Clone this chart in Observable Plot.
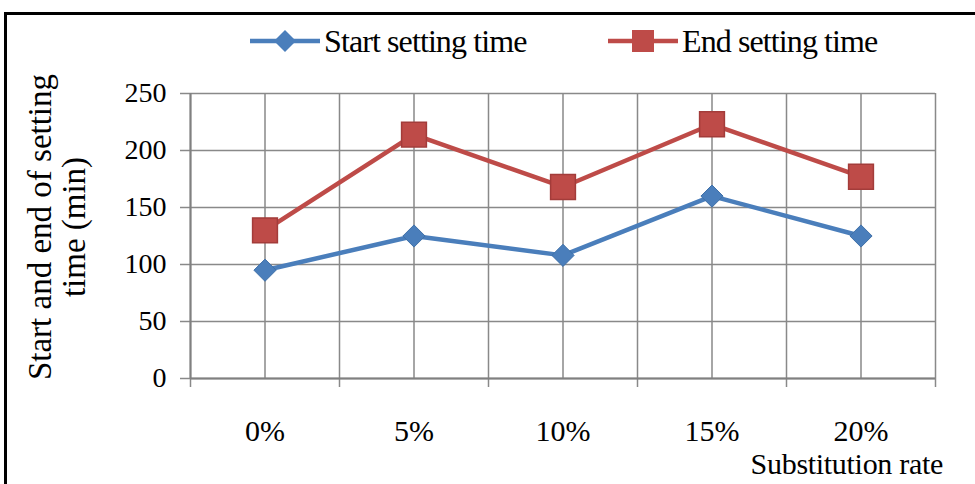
<!DOCTYPE html>
<html><head><meta charset="utf-8">
<script src="https://cdn.jsdelivr.net/npm/d3@7"></script>
<script src="https://cdn.jsdelivr.net/npm/@observablehq/plot@0.6"></script>
<style>
body{margin:0;background:#fff;font-family:"Liberation Serif","DejaVu Serif",serif;}
#wrap{position:relative;width:975px;height:484px;overflow:hidden;background:#fff}
#frame{position:absolute;left:4px;top:12px;width:1000px;height:520px;border:3px solid #000;box-sizing:border-box;pointer-events:none}
#chart{position:absolute;left:0;top:0}
.leg{position:absolute;top:24px;height:34px;display:flex;align-items:center;font-size:32px;letter-spacing:-0.9px;color:#000;white-space:nowrap}
.leg svg{margin-right:2px}
#ytitle{position:absolute;left:57px;top:227px;width:360px;transform:translate(-50%,-50%) rotate(-90deg);text-align:center;font-size:33px;line-height:34px;color:#000}
#xtitle{position:absolute;right:32px;top:447px;font-size:30px;letter-spacing:-0.3px;color:#000}
</style></head>
<body>
<div id="wrap">
  <div id="chart"></div>
  <div class="leg" id="leg1" style="left:250px"></div>
  <div class="leg" id="leg2" style="left:608px"></div>
  <div id="ytitle">Start and end of setting<br>time (min)</div>
  <div id="xtitle">Substitution rate</div>
  <div id="frame"></div>
</div>
<script>
const categories = ["0%", "5%", "10%", "15%", "20%"];
const startTime = [95, 125, 108, 160, 125];
const endTime = [130, 214, 168, 223, 177];
const yTicks = [0, 50, 100, 150, 200, 250];
const seriesNames = ["Start setting time", "End setting time"];
const seriesColors = ["#4a7ebb", "#be4b48"];

const idx = categories.map((_, i) => i);
const startRows = categories.map((c, i) => ({i, cat: c, v: startTime[i]}));
const endRows = categories.map((c, i) => ({i, cat: c, v: endTime[i]}));
const bounds = d3.range(-0.5, categories.length, 1);
const grid = d3.range(-0.5, categories.length, 0.5);
const gridColor = "#898989";

const chart = Plot.plot({
  width: 975, height: 484,
  marginLeft: 190, marginRight: 40, marginTop: 93, marginBottom: 106,
  x: {type: "linear", domain: [-0.5, categories.length - 0.5]},
  y: {domain: [0, 250]},
  style: {fontFamily: "'Liberation Serif', serif", fontSize: "28px", color: "#000", background: "transparent"},
  marks: [
    Plot.gridX(grid, {stroke: gridColor, strokeOpacity: 1, strokeWidth: 1.5}),
    Plot.gridY(yTicks, {stroke: gridColor, strokeOpacity: 1, strokeWidth: 1.5}),
    Plot.axisY(yTicks, {tickSize: 10, tickPadding: 14, stroke: gridColor, strokeWidth: 1.5, label: null, fill: "#000", fontSize: 28}),
    Plot.axisX(idx, {tickSize: 0, tickPadding: 41, tickFormat: i => categories[i], label: null, fill: "#000", fontSize: 30}),
    Plot.axisX(bounds, {tickSize: 9, tickFormat: () => "", label: null, stroke: gridColor, strokeWidth: 1.5}),
    Plot.ruleY([0], {stroke: "#808080", strokeWidth: 2}),
    Plot.ruleX([-0.5], {stroke: "#808080", strokeWidth: 2}),
    Plot.line(startRows, {x: "i", y: "v", stroke: seriesColors[0], strokeWidth: 4.5}),
    Plot.dot(startRows, {x: "i", y: "v", symbol: "diamond2", r: 10, fill: seriesColors[0], stroke: "#3f70a8", strokeWidth: 1}),
    Plot.line(endRows, {x: "i", y: "v", stroke: seriesColors[1], strokeWidth: 4.5}),
    Plot.dot(endRows, {x: "i", y: "v", symbol: "square", r: 14, fill: seriesColors[1], stroke: "#a33c3a", strokeWidth: 1.5})
  ]
});
document.getElementById("chart").appendChild(chart);

function legendItem(el, name, color, sym) {
  const svg = d3.create("svg").attr("width", 72).attr("height", 34);
  svg.append("line").attr("x1", 0).attr("x2", 70).attr("y1", 17).attr("y2", 17).attr("stroke", color).attr("stroke-width", 4.5);
  if (sym === "diamond") svg.append("path").attr("d", "M35,6L46,17L35,28L24,17Z").attr("fill", color);
  else svg.append("rect").attr("x", 24).attr("y", 6).attr("width", 22).attr("height", 22).attr("fill", color);
  el.appendChild(svg.node());
  const s = document.createElement("span"); s.textContent = name; el.appendChild(s);
}
legendItem(document.getElementById("leg1"), seriesNames[0], seriesColors[0], "diamond");
legendItem(document.getElementById("leg2"), seriesNames[1], seriesColors[1], "square");
</script>
</body></html>
